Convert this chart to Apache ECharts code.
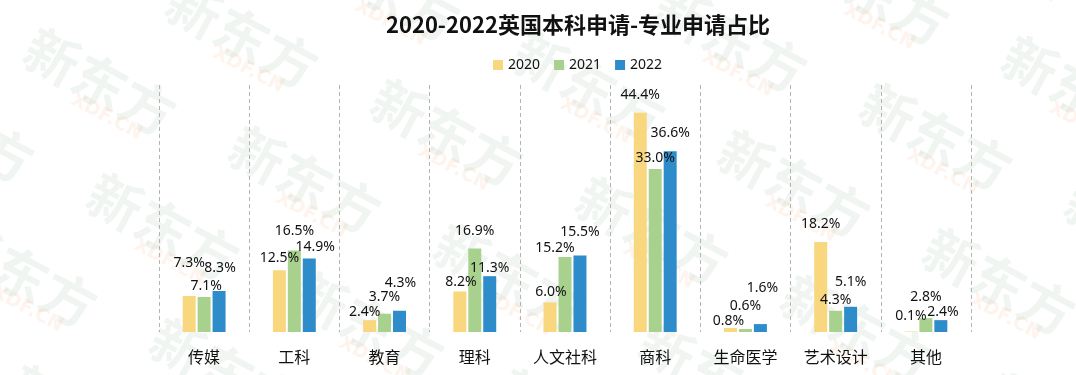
<!DOCTYPE html>
<html lang="zh-CN" style="height: 100%">
  <head>
    <meta charset="utf-8" />
  </head>
  <body style="height: 100%; margin: 0; background: #fff">
    <div id="container" style="height: 100%"></div>

    <script
      type="text/javascript"
      src="https://fastly.jsdelivr.net/npm/echarts@6/dist/echarts.min.js"
    ></script>

    <script type="text/javascript">
      var categories = ["传媒", "工科", "教育", "理科", "人文社科", "商科", "生命医学", "艺术设计", "其他"];
      var years = ["2020", "2021", "2022"];
      var values2020 = [7.3, 12.5, 2.4, 8.2, 6.0, 44.4, 0.8, 18.2, 0.1];
      var values2021 = [7.1, 16.5, 3.7, 16.9, 15.2, 33.0, 0.6, 4.3, 2.8];
      var values2022 = [8.3, 14.9, 4.3, 11.3, 15.5, 36.6, 1.6, 5.1, 2.4];

      // the labels in the original sit a little off the bar tops, nudge them
      var shift2020 = [[0, -21], [0, 0], [-5, 4], [1, 3], [1, 2], [0, -6], [-2, 5], [0, -6], [0, -3]];
      var shift2021 = [[2, 1], [0, -7], [0, -5], [0, -5], [-10, 3], [0, 1], [0, -11], [0, 1], [0, -9]];
      var shift2022 = [[1, -11], [6, 1], [1, -16], [0, 4], [0, -11], [0, -6], [2, -24], [0, -13], [2, 4]];

      var colors = ["#F8D77F", "#A9D18E", "#2E8CCB"];

      var dom = document.getElementById("container");
      var myChart = echarts.init(dom, null, { renderer: "canvas" });
      var cjk = '"Noto Sans CJK SC", sans-serif';
      var latin = '"Noto Sans", "Noto Sans CJK SC", sans-serif';

      function makeSeries(name, vals, shifts, color) {
        return {
          name: name,
          type: "bar",
          barWidth: 13,
          barGap: "15%",
          itemStyle: { color: color },
          data: vals.map(function (v, i) {
            return {
              value: v,
              label: { offset: shifts[i] },
            };
          }),
          label: {
            show: true,
            position: "top",
            distance: 5,
            color: "#111",
            fontSize: 14,
            fontFamily: latin,
            formatter: function (p) {
              return p.value.toFixed(1) + "%";
            },
          },
        };
      }

      // faint "新东方 XDF.CN" watermark tiled over the picture
      var marks = [];
      var ang = (-28 * Math.PI) / 180;
      for (var i = -3; i <= 8; i++) {
        for (var j = -2; j <= 4; j++) {
          var x = 100 + i * 142 + j * 205;
          var y = 82 - i * 47 + j * 98;
          if (x < -120 || x > 1200 || y < -80 || y > 460) continue;
          marks.push({
            type: "group",
            x: x,
            y: y,
            rotation: ang,
            z: 100,
            silent: true,
            children: [
              {
                type: "text",
                style: {
                  text: "新东方",
                  font: 'bold 54px "Noto Sans CJK SC"',
                  fill: "rgba(120,160,135,0.11)",
                  align: "center",
                  verticalAlign: "middle",
                },
              },
              {
                type: "text",
                x: 22,
                y: 28,
                style: {
                  text: "XDF.CN",
                  font: 'bold 19px "DejaVu Sans"',
                  fill: "rgba(250,150,80,0.1)",
                  align: "center",
                  verticalAlign: "middle",
                },
              },
            ],
          });
        }
      }

      var option = {
        backgroundColor: "#fff",
        animation: false,
        textStyle: { fontFamily: cjk },
        title: {
          text: "2020-2022英国本科申请-专业申请占比",
          left: 573,
          textAlign: "center",
          top: 9,
          textStyle: {
            fontSize: 22,
            fontWeight: "bold",
            color: "#111",
            fontFamily: cjk,
          },
        },
        legend: {
          data: years,
          left: 488,
          top: 53,
          itemWidth: 10,
          itemHeight: 10,
          itemGap: 14,
          icon: "rect",
          textStyle: { fontSize: 14, color: "#111", fontFamily: latin },
        },
        grid: { left: 159, right: 105, top: 85, bottom: 43 },
        xAxis: {
          type: "category",
          data: categories,
          axisLine: { show: false },
          axisTick: { show: false },
          axisLabel: { fontSize: 16, color: "#111", margin: 17, fontFamily: cjk },
          splitLine: {
            show: true,
            showMinLine: true,
            showMaxLine: true,
            lineStyle: { color: "#b4b4b4", type: [4, 3], width: 1 },
          },
        },
        yAxis: {
          type: "value",
          min: 0,
          max: 50,
          show: false,
          splitLine: { show: false },
        },
        graphic: marks,
        series: [
          makeSeries(years[0], values2020, shift2020, colors[0]),
          makeSeries(years[1], values2021, shift2021, colors[1]),
          makeSeries(years[2], values2022, shift2022, colors[2]),
        ],
      };

      myChart.setOption(option);
      window.addEventListener("resize", myChart.resize);
    </script>
  </body>
</html>
